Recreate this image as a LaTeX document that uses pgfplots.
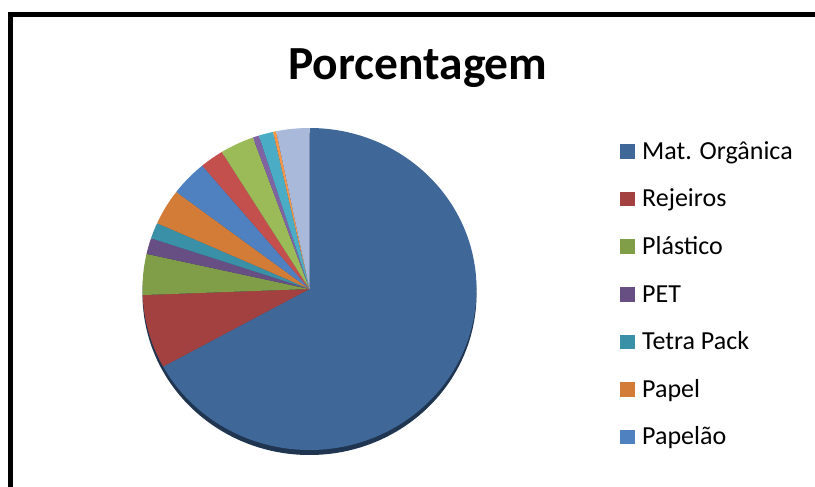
\documentclass[border=0pt]{standalone}
\usepackage{pgfplots}
\pgfplotsset{compat=1.18}
\usepackage{pgfplotstable}
\usepackage{fontspec}
\setmainfont{Carlito}

\definecolor{c0}{HTML}{3F6899}
\definecolor{c1}{HTML}{A2413F}
\definecolor{c2}{HTML}{809D48}
\definecolor{c3}{HTML}{674F84}
\definecolor{c4}{HTML}{3A90A6}
\definecolor{c5}{HTML}{D27C38}
\definecolor{c6}{HTML}{4F81C0}
\definecolor{c7}{HTML}{C4504E}
\definecolor{c8}{HTML}{9BBB59}
\definecolor{c9}{HTML}{8064A2}
\definecolor{c10}{HTML}{4BACC6}
\definecolor{c11}{HTML}{F79646}
\definecolor{c12}{HTML}{A9B9D9}
\definecolor{shadowblue}{HTML}{1F3550}

\pgfplotstableread[col sep=comma]{
name,value
Mat. Orgânica,67.0
Rejeiros,7.4
Plástico,4.1
PET,1.6
Tetra Pack,1.6
Papel,3.6
Papelão,3.6
Item 8,2.3
Item 9,3.3
Item 10,0.6
Item 11,1.4
Item 12,0.3
Item 13,3.2
}\piedata

\begin{document}
\begin{tikzpicture}
\useasboundingbox (0pt,0pt) rectangle (815pt,-487pt);
% chart frame (cropped at right and bottom)
\fill[black] (8.2pt,-12.2pt) rectangle (815pt,-17.2pt);
\fill[black] (8.2pt,-12.2pt) rectangle (13.2pt,-487pt);
% title
\node[anchor=base, inner sep=0pt, font=\bfseries\fontsize{47.5}{47.5}\selectfont] at (418pt,-79.3pt) {Porcentagem};

\begin{axis}[
  at={(309.5pt,-289pt)}, anchor=center,
  width=334pt, height=322pt, scale only axis,
  xmin=-1, xmax=1, ymin=-1, ymax=1,
  hide axis, clip=false]
\pgfplotsextra{
  \fill[shadowblue] (axis cs:0,0) ++(0pt,-5pt) ellipse[x radius=167pt, y radius=161pt];
  \def\cum{0}
  \pgfplotsforeachungrouped \i in {0,...,12}{
    \pgfplotstablegetelem{\i}{value}\of\piedata
    \let\v\pgfplotsretval
    \pgfmathsetmacro\a{90-\cum*3.6}
    \pgfmathsetmacro\b{90-(\cum+\v)*3.6}
    \fill[c\i] (axis cs:0,0) -- ++(\a:167pt and 161pt)
      arc[start angle=\a, end angle=\b, x radius=167pt, y radius=161pt] -- cycle;
    \pgfmathsetmacro\cum{\cum+\v}
  }
}
\end{axis}

% legend (first seven categories visible)
\pgfplotsforeachungrouped \k in {0,...,6}{
  \pgfplotstablegetelem{\k}{name}\of\piedata
  \let\nm\pgfplotsretval
  \pgfmathsetmacro\yc{-(151.5+47.6*\k)}
  \fill[c\k] (620.3pt,\yc pt-7.3pt) rectangle (634.8pt,\yc pt+7.3pt);
  \node[anchor=base west, inner sep=0pt, font=\fontsize{26}{26}\selectfont] at (642pt,\yc pt-7.7pt) {\nm};
}
\end{tikzpicture}
\end{document}
